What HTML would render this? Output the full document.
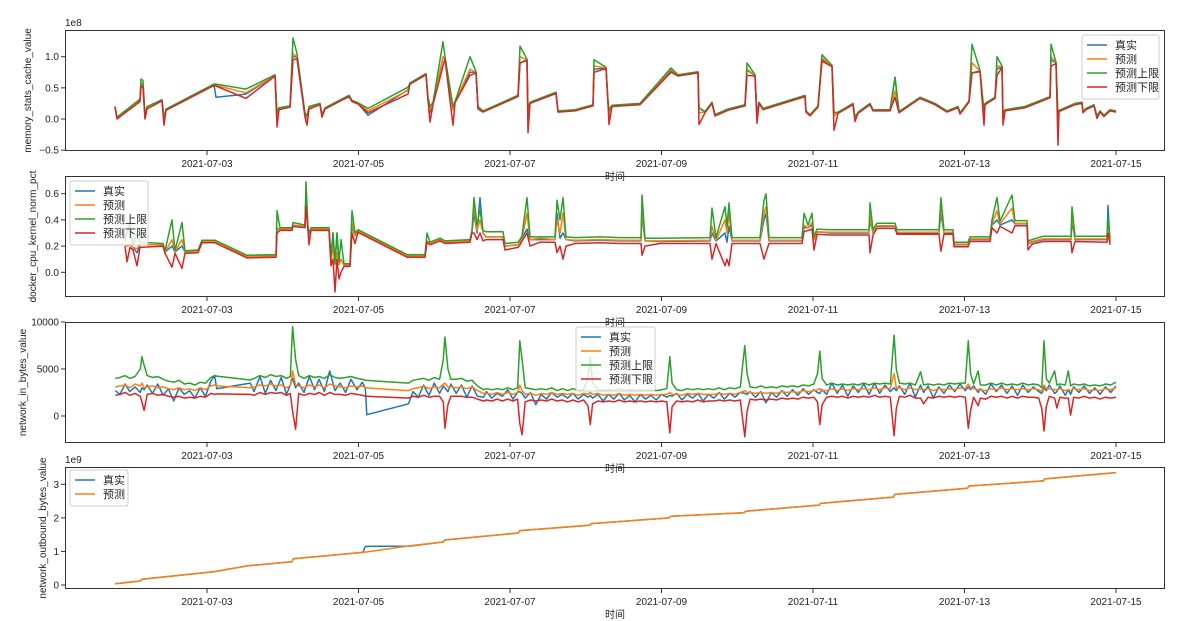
<!DOCTYPE html>
<html><head><meta charset="utf-8">
<style>
html,body{margin:0;padding:0;background:#fff;}
svg{display:block;font-family:"Liberation Sans","Noto Sans CJK SC",sans-serif;}
</style></head>
<body>
<svg id="fig" width="1194" height="621" viewBox="0 0 1194 621" xmlns="http://www.w3.org/2000/svg"></svg>
<script>
// ---------- shared axis data ----------
const xTickDays = [2, 4, 6, 8, 10, 12, 14]; // days since 2021-07-01
const xTickLabels = ["2021-07-03","2021-07-05","2021-07-07","2021-07-09","2021-07-11","2021-07-13","2021-07-15"];
const seriesNames = ["真实","预测","预测上限","预测下限"];

// ---------- panel 1: memory_stats_cache_value (1e8) ----------
const memT = [0.785,0.812,1.116,1.129,1.155,1.182,1.208,1.406,1.432,1.459,2.092,2.119,2.515,2.898,2.924,2.950,3.096,3.135,3.188,3.294,3.320,3.347,3.492,3.518,3.558,3.875,3.914,3.993,4.125,4.653,4.680,4.891,4.917,4.944,4.983,5.115,5.142,5.247,5.274,5.472,5.551,5.578,5.644,6.106,6.132,6.224,6.238,6.264,6.607,6.634,6.858,7.096,7.109,7.267,7.294,7.307,7.347,7.716,8.125,8.218,8.482,8.495,8.574,8.667,8.706,8.878,9.102,9.129,9.234,9.261,9.287,9.340,9.894,9.908,9.960,10.066,10.119,10.251,10.277,10.330,10.528,10.554,10.594,10.752,10.792,11.017,11.083,11.135,11.413,11.611,11.769,11.914,11.941,12.059,12.099,12.205,12.257,12.271,12.403,12.429,12.495,12.508,12.535,12.799,13.129,13.142,13.208,13.234,13.248,13.459,13.551,13.565,13.603,13.710,13.749,13.790,13.842,13.921,14.0];
const memReal = [.20,.02,.30,.55,.52,.02,.18,.30,-.02,.15,.55,.35,.40,.70,.05,.17,.20,1.0,1.0,.05,.02,.18,.24,.05,.17,.37,.29,.25,.06,.47,.57,.72,.30,.10,.25,.98,.98,.15,.27,.75,.75,.18,.12,.37,.90,.95,.10,.26,.42,.12,.14,.22,.80,.82,.27,.10,.21,.24,.78,.70,.75,.18,.11,.26,.06,.15,.22,.78,.70,.05,.26,.16,.37,.12,.06,.20,.95,.85,.10,.10,.24,.00,.10,.24,.14,.14,.67,.11,.34,.24,.12,.19,.09,.28,.74,.77,.10,.24,.34,.80,.84,.05,.14,.19,.35,.95,.90,.00,.13,.24,.26,.11,.16,.22,.03,.12,.05,.14,.12];
const memPred = [.20,.02,.30,.58,.55,.03,.18,.30,.00,.15,.55,.54,.42,.70,.00,.17,.20,1.05,1.0,.06,.00,.18,.24,.05,.17,.37,.29,.25,.13,.46,.57,.72,.35,.15,.25,1.0,.98,.15,.27,.80,.75,.18,.12,.37,1.0,.95,.05,.26,.42,.12,.14,.22,.85,.82,.27,.05,.21,.24,.80,.70,.75,.10,.11,.26,.06,.15,.22,.80,.70,.00,.26,.16,.37,.12,.06,.20,.98,.85,.05,.10,.24,.00,.10,.24,.14,.14,.45,.11,.34,.24,.12,.19,.09,.28,.90,.77,.10,.24,.34,.85,.84,.00,.14,.19,.35,1.0,.90,-.10,.13,.24,.26,.11,.16,.22,.03,.12,.05,.14,.12];
const memUpper = [.20,.03,.32,.64,.62,.05,.20,.31,.02,.16,.56,.56,.48,.71,.10,.18,.21,1.30,1.05,.10,.05,.20,.25,.07,.18,.38,.30,.26,.17,.51,.58,.73,.35,.20,.27,1.24,1.0,.20,.28,1.0,.76,.20,.13,.38,1.17,.96,.15,.27,.43,.13,.15,.23,.95,.83,.30,.15,.22,.25,.82,.71,.76,.18,.12,.27,.07,.16,.23,.90,.71,.05,.27,.17,.38,.13,.07,.21,1.03,.86,.10,.11,.25,.03,.11,.25,.15,.15,.67,.12,.35,.25,.13,.20,.10,.29,1.20,.78,.12,.25,.35,1.0,.85,.05,.15,.20,.36,1.20,.91,.00,.14,.25,.27,.12,.17,.23,.05,.13,.06,.15,.13];
const memLower = [.20,.00,.28,.53,.50,.00,.16,.29,-.10,.14,.54,.53,.33,.69,-.13,.15,.19,.95,.97,.03,-.10,.16,.23,.03,.16,.36,.28,.24,.10,.40,.56,.71,.30,-.05,.23,.85,.96,-.10,.26,.70,.74,.16,.11,.36,.90,.94,-.22,.25,.41,.11,.13,.21,.75,.81,.25,-.09,.20,.23,.75,.69,.74,-.09,.10,.25,.05,.14,.21,.70,.69,-.07,.25,.15,.36,.11,.05,.19,.93,.84,-.18,.09,.23,-.04,.09,.23,.13,.13,.35,.10,.33,.23,.11,.18,.08,.27,.74,.76,-.10,.23,.33,.70,.83,-.10,.13,.18,.34,.85,.89,-.42,.12,.23,.25,.10,.15,.21,.01,.11,.04,.13,.11];

// ---------- panel 2: docker_cpu_kernel_norm_pct ----------
const cpuT = [0.917,0.944,0.983,1.023,1.076,1.116,1.419,1.446,1.538,1.578,1.670,1.710,1.881,1.934,2.106,2.528,2.911,2.924,2.964,3.122,3.135,3.294,3.307,3.333,3.347,3.373,3.611,3.637,3.663,3.690,3.716,3.743,3.769,3.809,3.888,3.914,3.954,3.993,4.640,4.878,4.904,4.944,5.076,5.142,5.472,5.498,5.525,5.564,5.604,5.644,5.683,5.908,5.934,6.106,6.132,6.158,6.224,6.264,6.396,6.594,6.620,6.660,6.700,6.739,6.858,7.188,7.452,7.729,7.743,7.782,7.980,8.640,8.667,8.719,8.838,8.865,8.891,8.931,9.300,9.353,9.380,9.419,9.855,9.881,9.934,9.987,10.013,10.053,10.224,10.739,10.752,10.792,10.845,11.083,11.109,11.663,11.689,11.729,11.848,11.861,12.046,12.072,12.336,12.363,12.429,12.468,12.627,12.666,12.825,12.838,12.891,13.036,13.406,13.419,13.459,13.881,13.894,13.921];
const cpuReal = [.22,.20,.21,.19,.15,.21,.21,.155,.20,.155,.20,.155,.16,.235,.235,.12,.125,.33,.33,.33,.36,.35,.58,.33,.25,.33,.33,.10,.30,.06,.30,.06,.10,.055,.055,.35,.28,.315,.125,.125,.24,.22,.25,.23,.24,.31,.45,.30,.57,.30,.27,.27,.20,.21,.23,.26,.33,.25,.25,.25,.45,.26,.30,.25,.24,.245,.24,.24,.45,.24,.235,.24,.30,.24,.30,.23,.35,.24,.24,.40,.45,.24,.24,.34,.34,.36,.25,.31,.30,.30,.40,.30,.35,.35,.30,.30,.45,.30,.30,.21,.21,.25,.25,.36,.40,.36,.40,.37,.37,.22,.23,.25,.25,.40,.25,.25,.51,.23];
const cpuPred = [.22,.20,.21,.19,.18,.21,.21,.155,.25,.155,.25,.155,.16,.235,.235,.12,.125,.34,.33,.33,.36,.35,.60,.33,.25,.33,.33,.08,.20,.06,.15,.06,.10,.055,.055,.38,.28,.315,.125,.125,.24,.22,.25,.23,.24,.31,.50,.32,.40,.30,.27,.27,.20,.21,.23,.26,.45,.25,.26,.25,.40,.30,.45,.25,.245,.25,.245,.245,.50,.24,.24,.245,.35,.245,.40,.30,.45,.245,.245,.45,.50,.245,.245,.36,.34,.38,.25,.31,.305,.305,.43,.305,.355,.355,.305,.305,.50,.305,.305,.215,.215,.255,.255,.37,.47,.37,.49,.375,.375,.225,.235,.255,.255,.45,.255,.255,.40,.245];
const cpuUpper = [.24,.30,.38,.21,.30,.23,.22,.165,.40,.165,.38,.165,.17,.245,.245,.13,.135,.47,.34,.34,.38,.36,.69,.34,.30,.34,.34,.12,.30,.07,.30,.08,.25,.065,.065,.47,.30,.325,.135,.135,.30,.23,.26,.24,.25,.32,.57,.36,.48,.32,.31,.31,.22,.23,.25,.28,.57,.27,.27,.27,.55,.40,.57,.27,.265,.27,.265,.265,.59,.26,.26,.265,.49,.265,.50,.35,.53,.265,.265,.55,.60,.265,.265,.45,.36,.45,.27,.33,.325,.325,.53,.325,.375,.375,.325,.325,.57,.325,.325,.23,.23,.27,.27,.40,.57,.39,.59,.395,.395,.24,.25,.275,.275,.50,.275,.275,.42,.26];
const cpuLower = [.20,.08,.19,.17,.05,.19,.20,.145,.04,.145,.03,.145,.15,.225,.225,.11,.115,.30,.32,.32,.35,.34,.50,.32,.21,.32,.32,.05,.10,-.15,.10,-.05,.00,.045,.045,.30,.22,.305,.115,.115,.23,.21,.24,.22,.23,.30,.30,.25,.30,.24,.25,.25,.17,.19,.21,.24,.30,.20,.23,.23,.15,.20,.10,.20,.22,.225,.22,.22,.13,.20,.22,.22,.10,.22,.05,.10,.05,.22,.22,.10,.15,.22,.22,.31,.32,.33,.17,.29,.285,.285,.15,.285,.335,.335,.29,.29,.16,.29,.29,.195,.195,.235,.235,.34,.30,.35,.30,.355,.355,.17,.215,.235,.235,.15,.235,.23,.30,.21];

// ---------- panel 3: network_in_bytes_value ----------
const netT = [0.79,0.85,0.92,0.98,1.05,1.12,1.14,1.17,1.21,1.28,1.35,1.42,1.49,1.56,1.63,1.70,1.77,1.84,1.91,1.98,2.05,2.10,2.13,2.57,2.62,2.70,2.77,2.84,2.91,2.98,3.05,3.10,3.13,3.17,3.21,3.28,3.35,3.42,3.48,3.55,3.62,3.69,3.76,3.83,3.90,3.98,4.05,4.09,4.11,4.66,4.72,4.79,4.86,4.93,5.00,5.07,5.12,5.14,5.18,5.22,5.29,5.36,5.43,5.50,5.57,5.65,5.69,5.76,5.83,5.90,5.97,6.04,6.10,6.13,6.16,6.20,6.27,6.34,6.41,6.48,6.55,6.62,6.69,6.76,6.83,6.90,6.97,7.03,7.06,7.09,7.16,7.23,7.30,7.37,7.44,7.51,7.58,7.65,7.72,7.79,7.86,7.93,8.00,8.07,8.11,8.14,8.20,8.27,8.34,8.41,8.48,8.55,8.62,8.69,8.76,8.83,8.90,8.97,9.04,9.10,9.13,9.17,9.24,9.31,9.38,9.45,9.52,9.59,9.66,9.73,9.80,9.87,9.94,10.01,10.06,10.09,10.12,10.18,10.25,10.32,10.39,10.46,10.53,10.60,10.67,10.74,10.81,10.88,10.95,11.02,11.07,11.10,11.14,11.21,11.28,11.35,11.42,11.46,11.52,11.59,11.66,11.73,11.80,11.87,11.94,12.01,12.05,12.08,12.12,12.18,12.21,12.28,12.35,12.42,12.49,12.56,12.63,12.70,12.77,12.84,12.91,12.98,13.02,13.05,13.08,13.12,13.19,13.22,13.26,13.33,13.37,13.40,13.44,13.51,13.58,13.65,13.72,13.79,13.86,13.93,14.00];
const netReal = [2700,2300,3400,2600,3100,2500,3000,2800,3300,2400,3400,2200,2900,1600,3000,2300,2700,1900,3000,2100,3700,4300,2900,3500,2600,4200,2400,3800,2700,4100,2300,3300,4000,3000,3500,2500,4200,2800,3900,2600,4800,2700,3500,2500,3900,2800,3600,3000,140,1300,2600,2000,3300,2200,3500,2400,3200,3000,2600,3400,2400,3300,2000,3200,2100,2000,2600,1900,2400,2100,2800,1800,2500,2600,2400,1900,2500,1200,2300,1800,2500,2000,2300,1900,2400,1800,2300,2000,2200,1900,2300,1600,2300,1800,2400,1700,2200,1500,2300,1800,2200,1700,2300,2000,2200,2100,2400,1700,2300,1900,2400,1600,2300,1900,2500,1800,2400,2000,2500,2400,2300,2600,2000,2600,1400,2500,2000,2700,2100,2800,2200,2900,2300,2800,2500,2400,2800,2300,3500,2400,3300,2100,3200,2500,3400,2300,3500,2400,3300,2600,3000,2700,3200,2300,3500,2000,3300,2500,3200,1900,3100,2400,3300,2600,3400,2700,3100,2800,3200,2500,2900,2300,3400,2600,3300,2400,3200,2200,3300,2500,3100,2600,2400,3000,2700,3300,2400,2600,3200,2200,2800,2300,3100,2500,3200,2400,3000,2300,3100,2500,3200];
const netPred = [3100,3200,3300,3000,3400,3200,3500,3000,3100,3200,3000,3100,2900,2800,3000,2800,2900,2700,3000,2800,3200,3300,3200,3000,3100,3300,3200,3400,3200,3300,3000,3200,4800,3300,3200,3000,3300,3100,3300,3000,3400,3200,3100,3000,3200,3100,3200,3000,2990,2700,2900,3000,3200,2900,3100,3000,3400,3500,3100,3100,3000,3100,2900,3100,2700,2400,2400,2300,2500,2300,2500,2300,2500,3300,2700,2300,2400,2200,2400,2300,2500,2300,2400,2300,2400,2200,2400,2300,2500,2300,2400,2200,2300,2200,2400,2200,2300,2200,2300,2200,2300,2200,2300,2300,2500,2300,2300,2200,2400,2300,2400,2300,2300,2300,2400,2300,2400,2300,2500,2700,2500,2500,2400,2500,2400,2500,2400,2600,2500,2600,2500,2700,2600,2700,2800,2900,2700,2700,2900,2700,2900,2700,2900,2800,2900,2800,3000,2800,3000,2900,4500,3000,3000,2800,3000,2800,2900,2800,2900,2700,2900,2800,2900,2800,3000,2900,3400,3000,2900,2800,2800,2700,2900,2800,3000,2800,2900,2800,2900,2800,2900,2800,2600,3300,2900,2900,2800,2800,2900,2700,2800,2700,2900,2800,2900,2700,2800,2700,2900,2800,3000];
const netUpper = [4000,4100,4300,4000,4200,5000,6300,5400,4300,4100,4200,3900,3700,3600,3800,3400,3500,3300,3600,3500,4100,4300,4250,3830,4000,4300,4100,4400,4200,4300,4000,4200,9500,6000,4300,4000,4300,4100,4200,4000,4400,4100,4000,4100,4200,4000,3900,3800,3790,3500,3800,3900,4000,3800,4100,3900,6000,8400,5000,3900,3900,4000,3700,3800,3200,2800,2900,2800,2900,2800,3000,2800,3000,8000,6000,3000,2900,2800,2900,2800,3000,2700,2900,2700,2900,2700,2800,4000,6300,3500,2800,2700,2800,2700,2900,2700,2800,2700,2800,2700,2800,2700,2800,2900,6300,3500,2800,2700,2900,2800,2900,2800,2900,2800,3000,2800,3000,2900,3100,7500,4500,3100,3000,3200,3000,3100,3000,3200,3100,3200,3100,3300,3200,3400,4500,6900,4000,3300,3500,3300,3400,3300,3400,3300,3500,3300,3500,3400,3500,3400,8600,5000,3500,3400,3500,3300,4700,3300,3400,3300,3400,3300,3500,3400,3500,3500,8000,4500,3400,4800,3300,3300,3500,3300,3500,3300,3400,3300,3500,3300,3400,3300,3000,8000,4000,3500,4800,3300,3400,3300,4800,3200,3400,3300,3400,3200,3300,3200,3400,3300,3600];
const netLower = [2200,2300,2500,2200,2400,2100,1500,600,2300,2400,2200,2300,2100,2000,2100,1900,2000,1900,2100,2000,2400,2300,2350,2300,2200,2500,2300,2500,2400,2500,2200,2400,500,-1400,2400,2200,2400,2300,2500,2200,2500,2300,2300,2200,2400,2300,2200,2100,2095,1900,2100,2000,2200,2000,2100,2100,1500,-1300,1200,2100,2100,2100,2000,2000,1800,1600,1700,1600,1800,1600,1800,1600,1800,-800,-2000,1500,1700,1600,1700,1600,1800,1600,1700,1500,1700,1500,1700,1100,-900,1300,1600,1500,1600,1500,1700,1500,1600,1500,1600,1500,1600,1500,1600,1500,-1800,1000,1600,1500,1600,1500,1700,1500,1600,1600,1700,1600,1700,1600,1700,-2200,500,1800,1700,1800,1700,1800,1700,1900,1800,1900,1800,2000,1900,2000,1500,-900,1200,2000,2100,2000,2100,1900,2100,2000,2100,2000,2200,2000,2100,2000,-2100,800,2100,2000,2200,1900,1900,1300,2000,1900,2100,2000,2100,2000,2100,2000,-1300,600,2000,1100,1900,1800,2100,2000,2100,1900,2100,1900,2100,2000,2000,1900,800,-1600,1000,2100,1900,850,2000,1900,1900,100,2000,1900,2100,1900,2000,1800,2000,1900,2000];

// ---------- panel 4: network_outbound_bytes_value (1e9) ----------
const outT = [0.785,1.12,1.14,2.10,2.53,3.12,3.14,4.06,4.09,4.68,5.12,5.14,6.11,6.13,7.05,7.07,8.10,8.12,9.09,9.11,10.08,10.10,11.06,11.08,12.04,12.06,13.04,13.06,14.0];
const outReal = [.04,.12,.17,.40,.57,.69,.78,.97,1.15,1.16,1.28,1.34,1.55,1.62,1.78,1.83,2.0,2.05,2.15,2.2,2.38,2.43,2.62,2.70,2.88,2.95,3.10,3.16,3.35];
const outPred = [.04,.12,.17,.40,.57,.69,.78,.97,.98,1.17,1.28,1.34,1.55,1.62,1.78,1.83,2.0,2.05,2.15,2.2,2.38,2.43,2.62,2.70,2.88,2.95,3.10,3.16,3.35];

// y tick values/labels per panel
const memTicks = [-0.5, 0.0, 0.5, 1.0];
const memTickLabels = ["\u22120.5","0.0","0.5","1.0"];
const cpuTicks = [0.0, 0.2, 0.4, 0.6];
const cpuTickLabels = ["0.0","0.2","0.4","0.6"];
const netTicks = [0, 5000, 10000];
const netTickLabels = ["0","5000","10000"];
const outTicks = [0, 1, 2, 3];
const outTickLabels = ["0","1","2","3"];

const colors = ["#1f77b4","#ff7f0e","#2ca02c","#d62728"];
const NS = "http://www.w3.org/2000/svg";
const svg = document.getElementById("fig");
const AX_L = 65, AX_R = 1165;
function xScale(t){ return 207 + (t - 2) * 75.75; }
function mk(tag, attrs, parent){
  const e = document.createElementNS(NS, tag);
  for (const k in attrs) e.setAttribute(k, attrs[k]);
  (parent || svg).appendChild(e);
  return e;
}

function panel(cfg){
  const g = mk("g", {});
  
  
  const yS = v => cfg.py0 + (v - cfg.v0) * (cfg.py1 - cfg.py0) / (cfg.v1 - cfg.v0);
  // clip
  const cid = "clip-" + cfg.name;
  const cp = mk("clipPath", {id: cid}, g);
  mk("rect", {x: AX_L, y: cfg.top, width: AX_R - AX_L, height: cfg.bottom - cfg.top}, cp);
  // series
  const lines = mk("g", {"clip-path": "url(#" + cid + ")"}, g);
  cfg.series.forEach((s, i) => {
    let d = "";
    cfg.t.forEach((t, j) => { d += (j ? "L" : "M") + xScale(t).toFixed(1) + "," + yS(s[j]).toFixed(1); });
    const p = mk("path", {d: d, fill: "none", stroke: colors[i], "stroke-width": 1.5, "stroke-linejoin": "round"}, lines);
    
    
  });
  // frame
  const fr = mk("rect", {x: AX_L + 0.5, y: cfg.top + 0.5, width: AX_R - AX_L - 1, height: cfg.bottom - cfg.top - 1, fill: "none", stroke: "#333", "stroke-width": 1}, g);
  
  
  // x ticks
  xTickDays.forEach((t, i) => {
    const x = xScale(t);
    mk("line", {x1: x, x2: x, y1: cfg.bottom, y2: cfg.bottom + 4, stroke: "#333"}, g);
    const tx = mk("text", {x: x, y: cfg.bottom + 16, "font-size": 10, "text-anchor": "middle", fill: "#222"}, g);
    tx.textContent = xTickLabels[i];
    
    
  });
  // y ticks
  cfg.ticks.forEach((v, i) => {
    const y = yS(v);
    mk("line", {x1: AX_L - 4, x2: AX_L, y1: y, y2: y, stroke: "#333"}, g);
    const tx = mk("text", {x: AX_L - 6, y: y + 3.5, "font-size": 10, "text-anchor": "end", fill: "#222"}, g);
    tx.textContent = cfg.tickLabels[i];
    
    
  });
  // y label
  const yl = mk("text", {x: 0, y: 0, "font-size": 10, "text-anchor": "middle", fill: "#222",
    transform: "translate(" + cfg.ylx + "," + ((cfg.top + cfg.bottom) / 2) + ") rotate(-90)"}, g);
  yl.textContent = cfg.ylabel;
  
  
  // x label
  const xl = mk("text", {x: 615, y: cfg.bottom + 29, "font-size": 10, "text-anchor": "middle", fill: "#222"}, g);
  xl.textContent = "时间";
  
  
  if (cfg.offset){
    const o = mk("text", {x: AX_L, y: cfg.top - 4, "font-size": 10, fill: "#222"}, g);
    o.textContent = cfg.offset;
    
    
  }
  return g;
}

function legend(x, y, w, n){
  const g = mk("g", {});
  
  
  mk("rect", {x: x, y: y, width: w, height: 8 + n * 14, rx: 2, fill: "#fff", "fill-opacity": 0.8, stroke: "#ccc"}, g);
  for (let i = 0; i < n; i++){
    const ry = y + 10 + i * 14;
    mk("line", {x1: x + 5, x2: x + 25, y1: ry, y2: ry, stroke: colors[i], "stroke-width": 1.5}, g);
    const t = mk("text", {x: x + 33, y: ry + 4, "font-size": 11, fill: "#222"}, g);
    t.textContent = seriesNames[i];
    
    
  }
}

// Draw lower panels first so upper x-labels may be overlapped like original
panel({name: "memory-panel", top: 30, bottom: 151, v0: 0, py0: 119, v1: 1, py1: 56.7,
  t: memT, series: [memReal, memPred, memUpper, memLower], ticks: memTicks, tickLabels: memTickLabels,
  ylabel: "memory_stats_cache_value", ylx: 31, offset: "1e8"});
panel({name: "cpu-panel", top: 176, bottom: 297, v0: 0, py0: 272.3, v1: 0.6, py1: 193.7,
  t: cpuT, series: [cpuReal, cpuPred, cpuUpper, cpuLower], ticks: cpuTicks, tickLabels: cpuTickLabels,
  ylabel: "docker_cpu_kernel_norm_pct", ylx: 36});
panel({name: "network-in-panel", top: 322, bottom: 443, v0: 0, py0: 416, v1: 10000, py1: 322,
  t: netT, series: [netReal, netPred, netUpper, netLower], ticks: netTicks, tickLabels: netTickLabels,
  ylabel: "network_in_bytes_value", ylx: 26});
panel({name: "network-out-panel", top: 467, bottom: 589, v0: 0, py0: 585, v1: 3, py1: 484.3,
  t: outT, series: [outReal, outPred], ticks: outTicks, tickLabels: outTickLabels,
  ylabel: "network_outbound_bytes_value", ylx: 46, offset: "1e9"});

legend(1082, 35, 77, 4);
legend(70, 181, 78, 4);
legend(576, 327, 79, 4);
legend(70, 470, 58, 2);
</script>
</body></html>
